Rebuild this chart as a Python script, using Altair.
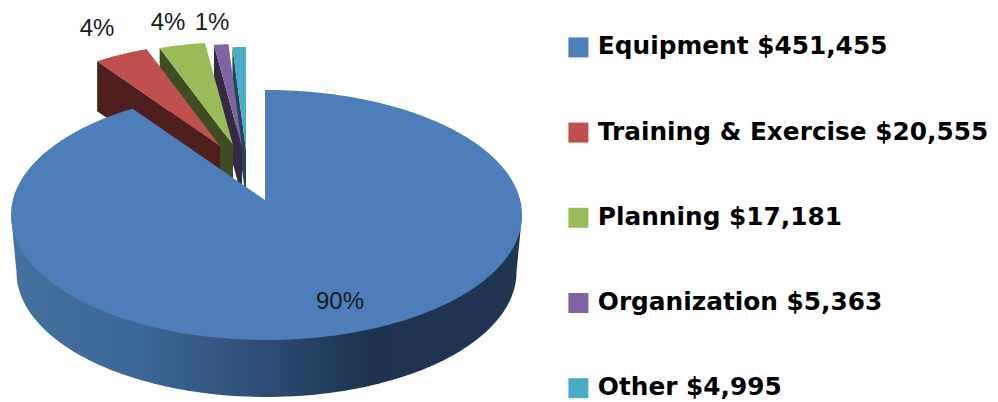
import math
import altair as alt
import pandas as pd

# ---- chart values ----
CATEGORIES = ["Equipment", "Training & Exercise", "Planning", "Organization", "Other"]
AMOUNTS = [451455, 20555, 17181, 5363, 4995]
COLORS = ["#4D7EBA", "#C0504D", "#9BBB59", "#8064A2", "#4BACC6"]
WALL_COLORS = [None, "#4F1F1D", "#3F4D24", "#352A44", "#1F4853"]
PERCENT_TEXT = ["90%", "4%", "4%", "1%"]

# ---- layout of the tilted pie (image pixels) ----
W, H = 982, 394
CX, CY, RX, RY = 266.5, 215, 255.5, 125      # top ellipse of the main slice
BASE_CY, BASE_RX = 272, 250                  # bottom ellipse of the main slice
AX, AY = 265, 200                            # tip of the main slice (perspective)
SRX, SRY = 216, 103                          # radius of the exploded slices
EXPLODE = [None, (-45, -54), (-32, -55), (-23, -53), (-19, -50)]
WALL_DEPTH = 50
LABEL_X = [340, 97, 168, 212]
LABEL_Y = [302, 29, 22.5, 22.5]

labels = [f"{c} ${a:,}" for c, a in zip(CATEGORIES, AMOUNTS)]
total = sum(AMOUNTS)
edges = [0.0]
for a in AMOUNTS:
    edges.append(edges[-1] + a / total * 2 * math.pi)


def band(poly):
    """Turn a polygon into x / upper y / lower y rows for an area mark."""
    d = 0.02
    xs = sorted({round(p[0], 3) for p in poly})
    rows = []
    grid = []
    for x in xs:
        grid += [x - d, x + d]
    grid = [min(max(g, xs[0]), xs[-1]) for g in grid]
    n = len(poly)
    for x in grid:
        ys = []
        for i in range(n):
            (x0, y0), (x1, y1) = poly[i], poly[(i + 1) % n]
            lo, hi = min(x0, x1), max(x0, x1)
            if lo - 1e-6 <= x <= hi + 1e-6 and hi > lo:
                ys.append(y0 + (y1 - y0) * (x - x0) / (x1 - x0))
        if ys:
            rows.append({"x": x, "y": min(ys), "y2": max(ys)})
    return pd.DataFrame(rows)


def ray_to_ellipse(theta):
    dx, dy = SRX * math.sin(theta), -SRY * math.cos(theta)
    ox, oy = (AX - CX) / RX, (AY - CY) / RY
    ux, uy = dx / RX, dy / RY
    a, b, c = ux * ux + uy * uy, 2 * (ox * ux + oy * uy), ox * ox + oy * oy - 1
    s = (-b + math.sqrt(b * b - 4 * a * c)) / (2 * a)
    return AX + s * dx, AY + s * dy


x_enc = alt.X("x:Q", scale=alt.Scale(domain=[8, 8 + W]), axis=None)
y_enc = alt.Y("y:Q", scale=alt.Scale(domain=[8 + H, 8]), axis=None)
y2_enc = alt.Y2("y2:Q")
color_scale = alt.Scale(domain=labels, range=COLORS)
legend = alt.Legend(
    title=None, orient="none", legendX=558, legendY=27, symbolType="square",
    symbolSize=400, symbolStrokeWidth=0, labelFont="DejaVu Sans", labelFontWeight="bold",
    labelFontSize=24.8, labelColor="#000000", labelLimit=500, rowPadding=59.2,
    symbolOffset=0, labelOffset=7, padding=0,
)


def top_layer(poly, label):
    df = band(poly).assign(label=label)
    return alt.Chart(df).mark_area(orient="vertical", strokeWidth=0).encode(
        x=x_enc, y=y_enc, y2=y2_enc,
        color=alt.Color("label:N", scale=color_scale, legend=legend),
    )


layers = []
# exploded slices, back to front
for i in [4, 3, 2, 1]:
    ax, ay = AX + EXPLODE[i][0], AY + EXPLODE[i][1]
    t0, t1 = edges[i], edges[i + 1]
    arc = [(ax + SRX * math.sin(t0 + (t1 - t0) * k / 24),
            ay - SRY * math.cos(t0 + (t1 - t0) * k / 24)) for k in range(25)]
    px, py = arc[0]
    wall = [(px, py), (ax, ay), (ax, ay + WALL_DEPTH), (px, py + WALL_DEPTH)]
    layers.append(alt.Chart(band(wall)).mark_area(orient="vertical", color=WALL_COLORS[i], strokeWidth=0)
                  .encode(x=x_enc, y=y_enc, y2=y2_enc))
    layers.append(top_layer([(ax, ay)] + arc, labels[i]))

# side of the main slice
side = [(CX - RX, CY), (CX + RX, CY), (CX + BASE_RX, BASE_CY)]
for k in range(1, 120):
    t = math.pi * k / 120
    side.append((CX + BASE_RX * math.cos(t), BASE_CY + RY * math.sin(t)))
side.append((CX - BASE_RX, BASE_CY))
side_fill = alt.Gradient(
    gradient="linear", x1=0, x2=1, y1=0, y2=0,
    stops=[alt.GradientStop(offset=0, color="#44719F"),
           alt.GradientStop(offset=0.25, color="#3D6796"),
           alt.GradientStop(offset=0.5, color="#2C4D74"),
           alt.GradientStop(offset=0.7, color="#1D3350"),
           alt.GradientStop(offset=1, color="#1F3552")],
)
layers.append(alt.Chart(band(side)).mark_area(orient="vertical", color=side_fill, strokeWidth=0)
              .encode(x=x_enc, y=y_enc, y2=y2_enc))

# top of the main slice
ex, ey = ray_to_ellipse(edges[1])
t_end = math.atan2(ex - CX, -(ey - CY) * RX / RY) % (2 * math.pi)
sx, sy = ray_to_ellipse(0.0)
t_start = math.atan2(sx - CX, -(sy - CY) * RX / RY) % (2 * math.pi)
if t_start > math.pi:
    t_start -= 2 * math.pi
main = [(AX, AY)]
for k in range(241):
    t = t_start + (t_end - t_start) * k / 240
    main.append((CX + RX * math.sin(t), CY - RY * math.cos(t)))
layers.append(top_layer(main, labels[0]))

# percent labels
text_df = pd.DataFrame({"x": LABEL_X, "y": LABEL_Y, "t": PERCENT_TEXT})
layers.append(alt.Chart(text_df).mark_text(font="Liberation Sans", fontSize=24, color="#1A1A1A", baseline="middle")
              .encode(x=x_enc, y=y_enc, text="t:N"))

chart = alt.layer(*layers).properties(
    width=W, height=H, padding=0, autosize=alt.AutoSizeParams(type="none")
).configure_view(stroke=None)
chart.save("out.html", embed_options={"renderer": "svg", "actions": False})
